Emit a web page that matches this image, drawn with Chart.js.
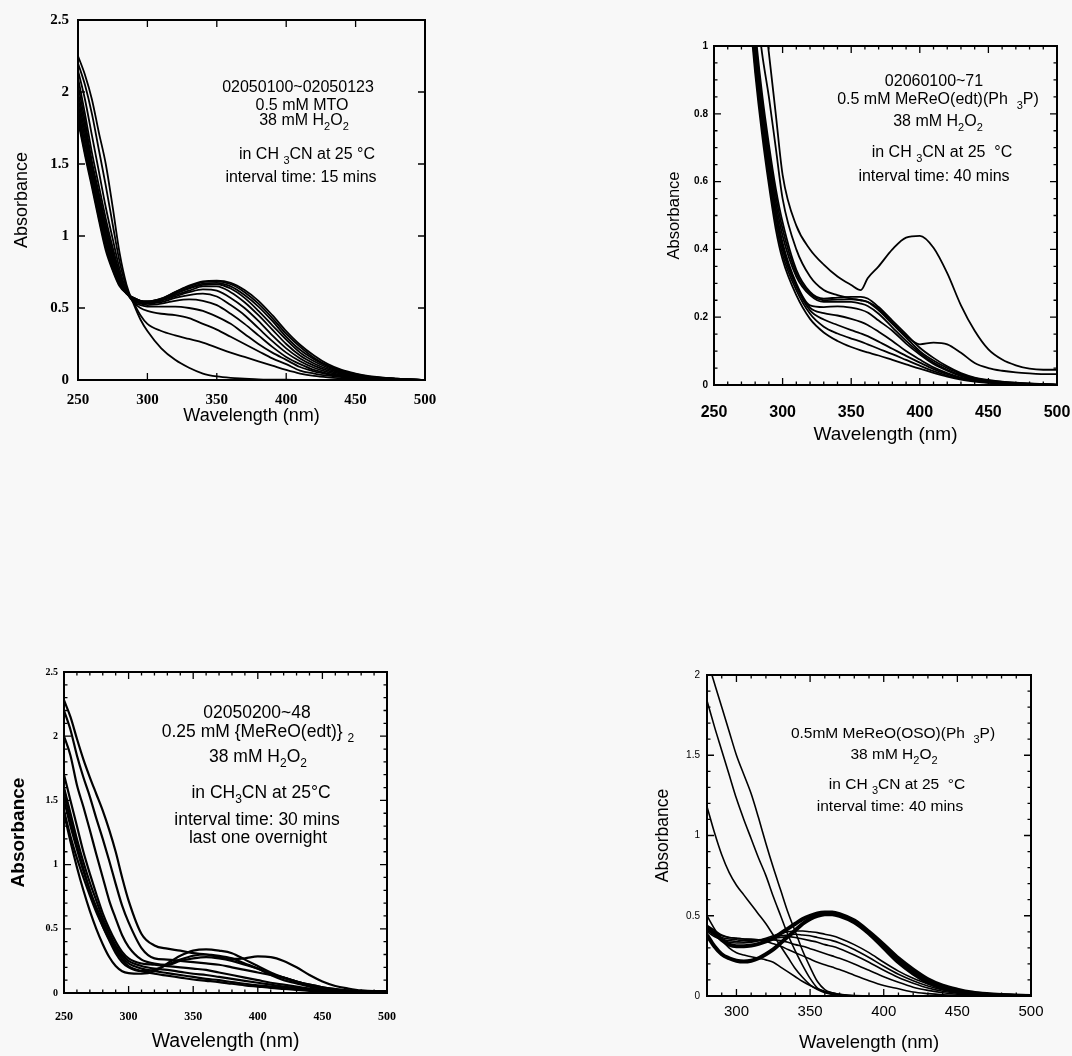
<!DOCTYPE html>
<html>
<head>
<meta charset="utf-8">
<title>UV-Vis spectra, MeReO complexes + H2O2</title>
<script src="https://cdn.jsdelivr.net/npm/chart.js@4.4.1/dist/chart.umd.min.js"></script>
<style>
  html, body { margin: 0; padding: 0; background: #f8f8f8; }
  #page { position: relative; width: 1072px; height: 1056px; overflow: hidden; }
  canvas { position: absolute; }
</style>
</head>
<body>
<div id="page">
  <canvas id="mto" width="430" height="419" style="left:10px;top:10px"></canvas>
  <canvas id="edtPPh3" width="408" height="412" style="left:664px;top:36px"></canvas>
  <canvas id="dimer" width="396" height="395" style="left:6px;top:660px"></canvas>
  <canvas id="oso" width="414" height="393" style="left:652px;top:663px"></canvas>
</div>
<script>
// ---------- data ----------

// top left: 0.5 mM MTO, every 15 min
const mtoWave = [250,255,260,265,270,275,280,285,290,295,300,310,320,330,340,350,360,370,380,390,400,410,420,430,440,450,460,480,500];
const mtoScans = [
  [2.25,2.12,1.95,1.72,1.5,1.2,0.88,0.66,0.53,0.42,0.34,0.22,0.14,0.085,0.045,0.025,0.015,0.01,0.005,0.003,0.002,0.001,0,0,0,0,0,0,0],
  [2.2,2.05,1.85,1.6,1.35,1.08,0.82,0.64,0.54,0.45,0.39,0.34,0.31,0.285,0.26,0.225,0.19,0.16,0.13,0.1,0.07,0.045,0.028,0.018,0.012,0.008,0.005,0.002,0],
  [2.15,1.95,1.7,1.45,1.2,0.98,0.77,0.62,0.54,0.5,0.48,0.46,0.45,0.43,0.39,0.35,0.3,0.25,0.2,0.15,0.11,0.065,0.045,0.03,0.02,0.012,0.008,0.003,0],
  [2.1,1.85,1.58,1.35,1.12,0.92,0.74,0.61,0.54,0.52,0.51,0.51,0.51,0.5,0.48,0.44,0.39,0.32,0.25,0.19,0.14,0.09,0.06,0.04,0.025,0.015,0.01,0.004,0],
  [2.05,1.8,1.52,1.3,1.08,0.89,0.72,0.61,0.55,0.53,0.52,0.53,0.55,0.56,0.55,0.52,0.46,0.39,0.31,0.23,0.16,0.11,0.07,0.045,0.03,0.018,0.01,0.004,0],
  [2.0,1.76,1.49,1.27,1.05,0.87,0.71,0.61,0.55,0.535,0.53,0.54,0.57,0.59,0.6,0.58,0.52,0.45,0.36,0.27,0.19,0.13,0.085,0.055,0.035,0.022,0.013,0.005,0],
  [1.96,1.72,1.46,1.24,1.02,0.85,0.7,0.61,0.56,0.54,0.535,0.55,0.58,0.61,0.63,0.62,0.57,0.5,0.41,0.31,0.22,0.15,0.1,0.065,0.042,0.027,0.016,0.006,0],
  [1.92,1.68,1.43,1.21,1.0,0.83,0.69,0.6,0.56,0.545,0.54,0.555,0.59,0.62,0.65,0.65,0.61,0.54,0.45,0.35,0.25,0.17,0.115,0.075,0.048,0.03,0.018,0.007,0],
  [1.88,1.64,1.4,1.18,0.97,0.81,0.68,0.6,0.565,0.545,0.54,0.56,0.6,0.635,0.66,0.665,0.635,0.57,0.48,0.38,0.28,0.19,0.13,0.085,0.053,0.033,0.02,0.007,0],
  [1.85,1.6,1.38,1.15,0.95,0.79,0.67,0.6,0.57,0.55,0.545,0.56,0.6,0.64,0.67,0.675,0.65,0.59,0.51,0.41,0.3,0.21,0.145,0.095,0.06,0.037,0.022,0.008,0],
  [1.82,1.58,1.36,1.13,0.92,0.77,0.66,0.6,0.57,0.55,0.545,0.565,0.61,0.65,0.68,0.685,0.665,0.61,0.53,0.43,0.32,0.23,0.155,0.1,0.065,0.04,0.024,0.009,0],
  [1.8,1.56,1.34,1.11,0.9,0.76,0.65,0.6,0.57,0.55,0.545,0.565,0.61,0.655,0.685,0.69,0.675,0.625,0.55,0.45,0.34,0.245,0.17,0.11,0.07,0.045,0.027,0.01,0]
];

// top right: 0.5 mM MeReO(edt)(Ph3P), every 40 min
const edtWave = [275,280,285,290,295,300,310,320,330,340,350,357,362,370,380,390,400,410,420,430,440,450,460,470,480,490,500];
const edtScans = [
  [1.5,1.3,1.15,0.98,0.8,0.62,0.47,0.4,0.355,0.32,0.295,0.28,0.315,0.35,0.4,0.435,0.44,0.405,0.33,0.235,0.16,0.105,0.075,0.058,0.048,0.045,0.045],
  [1.4,1.15,0.98,0.85,0.7,0.55,0.4,0.32,0.28,0.265,0.255,0.25,0.245,0.225,0.185,0.145,0.12,0.125,0.12,0.095,0.065,0.05,0.042,0.037,0.034,0.032,0.032],
  [1.3,1.05,0.86,0.71,0.58,0.48,0.34,0.275,0.255,0.258,0.26,0.26,0.255,0.23,0.19,0.15,0.11,0.08,0.055,0.035,0.022,0.015,0.01,0.007,0.005,0.003,0.002],
  [1.28,1.03,0.84,0.69,0.56,0.46,0.33,0.27,0.25,0.252,0.253,0.25,0.245,0.22,0.18,0.14,0.1,0.072,0.05,0.032,0.02,0.013,0.009,0.006,0.004,0.002,0.001],
  [1.25,1.01,0.82,0.67,0.54,0.44,0.32,0.265,0.245,0.245,0.245,0.24,0.233,0.21,0.17,0.13,0.095,0.066,0.045,0.029,0.018,0.012,0.008,0.005,0.003,0.002,0],
  [1.22,0.99,0.8,0.65,0.52,0.42,0.3,0.235,0.23,0.232,0.228,0.222,0.214,0.19,0.16,0.122,0.09,0.062,0.042,0.026,0.016,0.01,0.006,0.004,0.002,0.001,0],
  [1.2,0.97,0.79,0.64,0.51,0.41,0.295,0.228,0.212,0.205,0.195,0.186,0.177,0.157,0.13,0.1,0.075,0.052,0.035,0.022,0.014,0.009,0.005,0.003,0.002,0.001,0],
  [1.18,0.96,0.78,0.63,0.5,0.4,0.29,0.22,0.193,0.177,0.162,0.152,0.144,0.128,0.107,0.086,0.066,0.047,0.032,0.02,0.013,0.008,0.005,0.003,0.002,0.001,0],
  [1.16,0.94,0.76,0.61,0.48,0.385,0.28,0.21,0.172,0.152,0.137,0.128,0.12,0.107,0.091,0.074,0.057,0.041,0.028,0.018,0.012,0.007,0.004,0.003,0.002,0.001,0],
  [1.14,0.92,0.74,0.59,0.46,0.37,0.265,0.195,0.155,0.13,0.112,0.102,0.096,0.087,0.074,0.061,0.048,0.036,0.025,0.016,0.01,0.006,0.004,0.002,0.001,0.001,0]
];

// bottom left: 0.25 mM {MeReO(edt)}2, every 30 min
const dimerWave = [250,255,260,265,270,275,280,285,290,295,300,310,320,330,340,350,360,370,380,390,400,410,420,430,440,450,460,470,480,490,500];
const dimerScans = [
  [2.28,2.15,1.98,1.82,1.68,1.55,1.42,1.27,1.1,0.9,0.72,0.46,0.37,0.345,0.33,0.31,0.3,0.28,0.265,0.27,0.285,0.28,0.25,0.2,0.14,0.09,0.055,0.035,0.02,0.015,0.015],
  [2.2,2.05,1.85,1.68,1.53,1.36,1.2,1.03,0.85,0.68,0.55,0.35,0.27,0.26,0.25,0.24,0.23,0.22,0.2,0.18,0.16,0.14,0.12,0.09,0.065,0.045,0.03,0.02,0.01,0.005,0.005],
  [2.0,1.85,1.62,1.45,1.27,1.08,0.9,0.72,0.58,0.45,0.36,0.26,0.23,0.22,0.25,0.27,0.28,0.27,0.25,0.22,0.19,0.15,0.12,0.09,0.06,0.04,0.025,0.015,0.01,0.005,0],
  [1.4,1.18,0.98,0.8,0.64,0.5,0.38,0.28,0.21,0.17,0.155,0.15,0.17,0.23,0.29,0.33,0.34,0.33,0.31,0.26,0.21,0.16,0.12,0.09,0.065,0.045,0.03,0.02,0.01,0.005,0],
  [1.55,1.35,1.15,0.97,0.8,0.65,0.52,0.41,0.31,0.24,0.2,0.17,0.18,0.22,0.26,0.29,0.3,0.29,0.27,0.23,0.19,0.14,0.1,0.075,0.05,0.035,0.022,0.015,0.008,0.004,0],
  [1.7,1.5,1.3,1.1,0.93,0.77,0.62,0.5,0.4,0.32,0.27,0.23,0.22,0.21,0.2,0.19,0.18,0.16,0.14,0.12,0.1,0.08,0.065,0.05,0.035,0.025,0.015,0.01,0.006,0.003,0],
  [1.6,1.4,1.2,1.02,0.86,0.72,0.58,0.47,0.37,0.3,0.25,0.21,0.19,0.18,0.165,0.15,0.14,0.125,0.11,0.095,0.08,0.065,0.05,0.04,0.03,0.02,0.013,0.008,0.005,0.002,0],
  [1.5,1.3,1.12,0.95,0.8,0.67,0.55,0.44,0.35,0.28,0.23,0.19,0.17,0.155,0.14,0.125,0.11,0.1,0.085,0.072,0.06,0.05,0.04,0.03,0.022,0.015,0.01,0.006,0.003,0.001,0],
  [1.42,1.22,1.05,0.9,0.76,0.63,0.52,0.42,0.33,0.26,0.21,0.17,0.15,0.135,0.12,0.105,0.095,0.085,0.072,0.06,0.05,0.04,0.032,0.024,0.017,0.012,0.008,0.005,0.002,0.001,0]
];

// bottom right: 0.5 mM MeReO(OSO)(Ph3P), every 40 min (last two are the thick ones)
const osoWave = [280,285,290,295,300,305,310,315,320,325,330,335,340,345,350,355,360,365,370,380,390,400,410,420,430,440,450,460,470,480,490,500];
const osoScans = [
  [2.1,1.95,1.8,1.65,1.5,1.38,1.26,1.11,0.95,0.8,0.66,0.52,0.4,0.28,0.18,0.09,0.04,0.02,0.01,0,0,0,0,0,0,0,0,0,0,0,0,0],
  [1.84,1.68,1.53,1.38,1.23,1.1,0.98,0.86,0.75,0.62,0.5,0.38,0.28,0.19,0.11,0.05,0.025,0.012,0.006,0,0,0,0,0,0,0,0,0,0,0,0,0],
  [1.18,1.02,0.88,0.77,0.69,0.63,0.57,0.51,0.45,0.38,0.31,0.24,0.17,0.115,0.07,0.04,0.02,0.01,0.005,0,0,0,0,0,0,0,0,0,0,0,0,0],
  [0.5,0.42,0.35,0.3,0.27,0.255,0.245,0.235,0.225,0.21,0.18,0.15,0.12,0.09,0.065,0.045,0.03,0.02,0.01,0.003,0,0,0,0,0,0,0,0,0,0,0,0],
  [0.44,0.41,0.38,0.365,0.36,0.355,0.355,0.35,0.34,0.325,0.31,0.29,0.27,0.25,0.23,0.21,0.195,0.18,0.165,0.13,0.095,0.065,0.045,0.025,0.015,0.008,0.004,0.002,0.001,0,0,0],
  [0.43,0.4,0.375,0.365,0.36,0.355,0.35,0.35,0.35,0.35,0.345,0.335,0.32,0.31,0.295,0.28,0.265,0.25,0.235,0.2,0.16,0.12,0.085,0.055,0.035,0.02,0.011,0.006,0.003,0.001,0,0],
  [0.42,0.39,0.365,0.355,0.35,0.345,0.345,0.35,0.355,0.36,0.365,0.37,0.365,0.355,0.345,0.335,0.32,0.31,0.295,0.255,0.21,0.16,0.115,0.08,0.05,0.03,0.017,0.009,0.005,0.002,0.001,0],
  [0.41,0.38,0.355,0.345,0.34,0.335,0.34,0.345,0.355,0.365,0.375,0.38,0.385,0.38,0.375,0.365,0.355,0.345,0.33,0.29,0.24,0.185,0.135,0.095,0.062,0.038,0.022,0.012,0.006,0.003,0.001,0],
  [0.4,0.37,0.35,0.335,0.33,0.33,0.335,0.345,0.36,0.375,0.39,0.4,0.405,0.405,0.4,0.395,0.385,0.375,0.36,0.32,0.27,0.21,0.155,0.11,0.075,0.045,0.025,0.015,0.008,0.004,0.002,0]
];
const osoFinal = [
  [0.43,0.39,0.35,0.32,0.31,0.31,0.315,0.325,0.34,0.36,0.39,0.42,0.45,0.48,0.5,0.515,0.52,0.52,0.51,0.47,0.4,0.32,0.235,0.165,0.105,0.065,0.04,0.022,0.012,0.006,0.002,0],
  [0.38,0.31,0.26,0.235,0.22,0.215,0.22,0.235,0.26,0.29,0.33,0.37,0.41,0.45,0.48,0.5,0.51,0.51,0.5,0.46,0.39,0.3,0.21,0.14,0.085,0.05,0.028,0.015,0.008,0.004,0.002,0]
];

// axis ticks
const wave250Ticks = [250,300,350,400,450,500];
const wave300Ticks = [300,350,400,450,500];
const abs25Ticks = [0,0.5,1,1.5,2,2.5];
const abs1Ticks = [0,0.2,0.4,0.6,0.8,1];
const abs2Ticks = [0,0.5,1,1.5,2];

// ---------- drawing ----------
Chart.defaults.font.family = "'Liberation Sans', Arial, sans-serif";
Chart.defaults.color = '#000';

const SANS = "'Liberation Sans', Arial, sans-serif";
const SERIF = "'Liberation Serif', 'Times New Roman', serif";

function scan(wave, vals, width) {
    return {
        data: wave.map((w, i) => ({ x: w, y: vals[i] })),
        borderColor: '#000',
        borderWidth: width,
        pointRadius: 0,
        cubicInterpolationMode: 'monotone',
        fill: false
    };
}

// labels may hang over the canvas edge, the plot box is set by the layout padding only
function noOverhang(s) {
    s.paddingTop = 0; s.paddingBottom = 0;
    s.paddingLeft = 0; s.paddingRight = 0;
}

// box round the plot with inward ticks on all four sides
const framePlugin = {
    id: 'frame',
    afterDatasetsDraw(chart, args, opts) {
        const ctx = chart.ctx;
        const a = chart.chartArea;
        const xs = chart.scales.x, ys = chart.scales.y;
        const steps = (s, step) => {
            let out = [];
            if (!step) return out;
            let n = Math.round((s.max - s.min) / step);
            for (let i = 0; i <= n; i++) out.push(s.min + i * step);
            return out;
        };
        const mark = (vals, s, len, horiz) => {
            vals.forEach(v => {
                let p = s.getPixelForValue(v);
                if (horiz) {
                    ctx.moveTo(p, a.bottom); ctx.lineTo(p, a.bottom - len);
                    ctx.moveTo(p, a.top); ctx.lineTo(p, a.top + len);
                } else {
                    ctx.moveTo(a.left, p); ctx.lineTo(a.left + len, p);
                    ctx.moveTo(a.right, p); ctx.lineTo(a.right - len, p);
                }
            });
        };
        ctx.save();
        ctx.strokeStyle = '#000';
        ctx.lineWidth = 1.3;
        ctx.beginPath();
        mark(xs.ticks.map(t => t.value), xs, 7, true);
        mark(ys.ticks.map(t => t.value), ys, 7, false);
        mark(steps(xs, opts.xMinor), xs, 3.5, true);
        mark(steps(ys, opts.yMinor), ys, 3.5, false);
        ctx.stroke();
        ctx.lineWidth = 2;
        ctx.strokeRect(a.left, a.top, a.right - a.left, a.bottom - a.top);
        ctx.restore();
    }
};

// centred text lines, "_x" puts x as a subscript
const notesPlugin = {
    id: 'notes',
    afterDraw(chart, args, opts) {
        const ctx = chart.ctx;
        const size = opts.size;
        const big = size + 'px ' + SANS;
        const small = Math.round(size * 0.68) + 'px ' + SANS;
        ctx.save();
        ctx.fillStyle = '#000';
        ctx.textBaseline = 'middle';
        ctx.textAlign = 'left';
        opts.lines.forEach(line => {
            let pieces = [];
            let t = line.text;
            for (let i = 0; i < t.length; i++) {
                if (t[i] === '_') { pieces.push({ s: t[i + 1], sub: true }); i++; }
                else if (pieces.length && !pieces[pieces.length - 1].sub) pieces[pieces.length - 1].s += t[i];
                else pieces.push({ s: t[i], sub: false });
            }
            let total = 0;
            pieces.forEach(p => { ctx.font = p.sub ? small : big; p.w = ctx.measureText(p.s).width; total += p.w; });
            let x = line.x - total / 2;
            pieces.forEach(p => {
                ctx.font = p.sub ? small : big;
                ctx.fillText(p.s, x, line.y + (p.sub ? size * 0.4 : 0));
                x += p.w;
            });
        });
        ctx.restore();
    }
};

function panel(id, cfg) {
    return new Chart(document.getElementById(id), {
        type: 'line',
        data: { datasets: cfg.sets },
        options: {
            responsive: false,
            animation: false,
            events: [],
            layout: { padding: cfg.pad },
            plugins: {
                legend: { display: false },
                tooltip: { enabled: false },
                frame: { xMinor: cfg.xMinor, yMinor: cfg.yMinor },
                notes: { size: cfg.noteSize, lines: cfg.notes }
            },
            scales: {
                x: {
                    type: 'linear',
                    min: cfg.xMin, max: 500,
                    afterBuildTicks: s => { s.ticks = cfg.xTicks.map(v => ({ value: v })); },
                    afterFit: s => { s.height = cfg.xHeight; noOverhang(s); },
                    grid: { display: false, drawTicks: false },
                    border: { display: false },
                    ticks: { color: '#000', font: cfg.xFont, padding: cfg.xPad, maxRotation: 0, autoSkip: false, callback: v => String(v) },
                    title: { display: true, text: 'Wavelength (nm)', color: '#000', font: { family: SANS, size: cfg.xTitleSize }, padding: { top: 0, bottom: 2 } }
                },
                y: {
                    type: 'linear',
                    min: 0, max: cfg.yMax,
                    afterBuildTicks: s => { s.ticks = cfg.yTicks.map(v => ({ value: v })); },
                    afterFit: s => { s.width = cfg.yWidth; noOverhang(s); },
                    grid: { display: false, drawTicks: false },
                    border: { display: false },
                    ticks: { color: '#000', font: cfg.yFont, padding: cfg.yPad, callback: v => String(v) },
                    title: { display: true, text: 'Absorbance', color: '#000', font: cfg.yTitleFont, padding: { top: 1, bottom: 0 } }
                }
            }
        },
        plugins: [framePlugin, notesPlugin]
    });
}

panel('mto', {
    sets: mtoScans.map(v => scan(mtoWave, v, 1.8)),
    pad: { top: 10, right: 15, left: 0, bottom: 0 },
    xMin: 250, xTicks: wave250Ticks, yMax: 2.5, yTicks: abs25Ticks,
    xHeight: 49, yWidth: 68, xPad: 11, yPad: 9,
    xFont: { family: SERIF, size: 15, weight: 'bold' },
    yFont: { family: SERIF, size: 15, weight: 'bold' },
    xTitleSize: 18, yTitleFont: { family: SANS, size: 18 },
    noteSize: 16,
    notes: [
        { text: '02050100~02050123', x: 288, y: 78 },
        { text: '0.5 mM MTO', x: 292, y: 96 },
        { text: '38 mM H_2O_2', x: 294, y: 111 },
        { text: 'in CH _3CN at 25 °C', x: 297, y: 145 },
        { text: 'interval time: 15 mins', x: 291, y: 168 }
    ]
});

panel('edtPPh3', {
    sets: edtScans.map(v => scan(edtWave, v, 1.8)),
    pad: { top: 10, right: 15, left: 0, bottom: 0 },
    xMin: 250, xTicks: wave250Ticks, yMax: 1, yTicks: abs1Ticks,
    xHeight: 63, yWidth: 50, xPad: 18, yPad: 6, xMinor: 10, yMinor: 0.05,
    xFont: { family: SANS, size: 16, weight: 'bold' },
    yFont: { family: SANS, size: 10, weight: 'bold' },
    xTitleSize: 19, yTitleFont: { family: SANS, size: 16.5 },
    noteSize: 16,
    notes: [
        { text: '02060100~71', x: 270, y: 46 },
        { text: '0.5 mM MeReO(edt)(Ph  _3P)', x: 274, y: 64 },
        { text: '38 mM H_2O_2', x: 274, y: 86 },
        { text: 'in CH _3CN at 25  °C', x: 278, y: 117 },
        { text: 'interval time: 40 mins', x: 270, y: 141 }
    ]
});

panel('dimer', {
    sets: dimerScans.map(v => scan(dimerWave, v, 2.2)),
    pad: { top: 12, right: 15, left: 0, bottom: 0 },
    xMin: 250, xTicks: wave250Ticks, yMax: 2.5, yTicks: abs25Ticks,
    xHeight: 62, yWidth: 58, xPad: 17, yPad: 6, xMinor: 10, yMinor: 0.1,
    xFont: { family: SERIF, size: 12, weight: 'bold' },
    yFont: { family: SERIF, size: 10, weight: 'bold' },
    xTitleSize: 19.5, yTitleFont: { family: SANS, size: 19, weight: 'bold' },
    noteSize: 17.5,
    notes: [
        { text: '02050200~48', x: 251, y: 53 },
        { text: '0.25 mM {MeReO(edt)} _2', x: 252, y: 72 },
        { text: '38 mM H_2O_2', x: 252, y: 97 },
        { text: 'in CH_3CN at 25°C', x: 255, y: 133 },
        { text: 'interval time: 30 mins', x: 251, y: 160 },
        { text: 'last one overnight', x: 252, y: 178 }
    ]
});

panel('oso', {
    sets: osoScans.map(v => scan(osoWave, v, 1.6)).concat(osoFinal.map(v => scan(osoWave, v, 4))),
    pad: { top: 12, right: 35, left: 0, bottom: 0 },
    xMin: 280, xTicks: wave300Ticks, yMax: 2, yTicks: abs2Ticks,
    xHeight: 60, yWidth: 55, xPad: 7, yPad: 7, xMinor: 10, yMinor: 0.1,
    xFont: { family: SANS, size: 15 },
    yFont: { family: SANS, size: 10 },
    xTitleSize: 18.5, yTitleFont: { family: SANS, size: 17.5 },
    noteSize: 15.5,
    notes: [
        { text: '0.5mM MeReO(OSO)(Ph  _3P)', x: 241, y: 71 },
        { text: '38 mM H_2O_2', x: 242, y: 92 },
        { text: 'in CH _3CN at 25  °C', x: 245, y: 122 },
        { text: 'interval time: 40 mins', x: 238, y: 144 }
    ]
});
</script>
</body>
</html>
